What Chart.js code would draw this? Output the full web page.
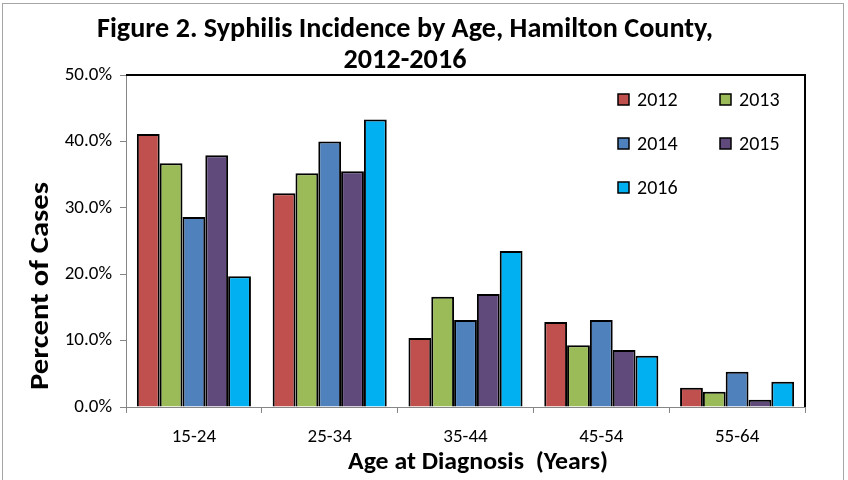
<!DOCTYPE html>
<html>
<head>
<meta charset="utf-8">
<script src="https://cdn.jsdelivr.net/npm/chart.js@4.4.1/dist/chart.umd.min.js"></script>
<style>
  html, body { margin: 0; padding: 0; background: #fff; }
  #wrap { width: 848px; height: 480px; position: relative; }
</style>
</head>
<body>
<div id="wrap"><canvas id="chart" width="848" height="480"></canvas></div>
<script>
// ---- data ----
const categories = ['15-24', '25-34', '35-44', '45-54', '55-64'];
const years = ['2012', '2013', '2014', '2015', '2016'];
const pct2012 = [41.1, 32.2, 10.4, 12.8, 2.9];
const pct2013 = [36.7, 35.2, 16.6, 9.3, 2.3];
const pct2014 = [28.6, 40.0, 13.1, 13.1, 5.3];
const pct2015 = [37.9, 35.5, 17.0, 8.6, 1.1];
const pct2016 = [19.7, 43.3, 23.5, 7.7, 3.8];
const yTicks = [0, 10, 20, 30, 40, 50];

const titleLines = ['Figure 2. Syphilis Incidence by Age, Hamilton County,', '2012-2016'];
const yTitle = 'Percent of Cases';
const xTitle = 'Age at Diagnosis  (Years)';

const colors = ['#C0504D', '#9BBB59', '#4F81BD', '#604A7B', '#00B0F0'];
const FONT = 'Carlito, Calibri, "Liberation Sans Narrow", "Open Sans", sans-serif';
const AXIS_GRAY = '#868686';

// draw text stretched along its direction so it spans a given length
function fitText(ctx, text, x, y, len) {
    const w = ctx.measureText(text).width;
    const sx = len / w;
    ctx.save();
    ctx.translate(x, y);
    ctx.scale(sx, 1);
    ctx.fillText(text, 0, 0);
    ctx.restore();
    return sx;
}

// titles, frame, plot border and legend
const decor = {
    id: 'decor',
    afterDraw(chart) {
        const { ctx, chartArea: a } = chart;
        ctx.save();

        // outer frame
        ctx.strokeStyle = '#A6A6A6';
        ctx.lineWidth = 1;
        ctx.strokeRect(2.5, 3.5, 841, 500);

        // plot area top/right border
        ctx.strokeStyle = '#000';
        ctx.lineWidth = 2;
        ctx.beginPath();
        ctx.moveTo(a.left, a.top);
        ctx.lineTo(a.right, a.top);
        ctx.lineTo(a.right, a.bottom);
        ctx.stroke();

        // chart title
        ctx.fillStyle = '#000';
        ctx.textAlign = 'center';
        ctx.textBaseline = 'middle';
        ctx.font = 'bold 29px ' + FONT;
        const sx = fitText(ctx, titleLines[0], 405, 30, 616);
        ctx.save();
        ctx.translate(405, 61);
        ctx.scale(sx, 1);
        ctx.fillText(titleLines[1], 0, 0);
        ctx.restore();

        // axis titles
        ctx.font = 'bold 25px ' + FONT;
        fitText(ctx, xTitle, 478, 463, 260);
        ctx.save();
        ctx.translate(41, 286);
        ctx.rotate(-Math.PI / 2);
        ctx.font = 'bold 26px ' + FONT;
        fitText(ctx, yTitle, 0, 0, 208);
        ctx.restore();

        // legend, two columns inside plot area
        ctx.font = '20px ' + FONT;
        ctx.textAlign = 'left';
        chart.data.datasets.forEach((ds, i) => {
            const col = i % 2, row = Math.floor(i / 2);
            const x = 618 + col * 102;
            const y = 99.5 + row * 44;
            ctx.fillStyle = ds.backgroundColor;
            ctx.fillRect(x, y - 5.5, 11, 11);
            ctx.strokeStyle = '#000';
            ctx.lineWidth = 1.5;
            ctx.strokeRect(x, y - 5.5, 11, 11);
            ctx.fillStyle = '#000';
            ctx.fillText(ds.label, x + 19, y + 1);
        });

        ctx.restore();
    }
};

const seriesValues = [pct2012, pct2013, pct2014, pct2015, pct2016];

new Chart(document.getElementById('chart'), {
    type: 'bar',
    data: {
        labels: categories,
        datasets: years.map((yr, i) => ({
            label: yr,
            data: seriesValues[i],
            backgroundColor: colors[i],
            borderColor: '#000',
            borderWidth: 2,
            categoryPercentage: 0.84,
            barPercentage: 1.0
        }))
    },
    options: {
        responsive: false,
        animation: false,
        layout: { padding: { top: 75, right: 43, left: 0, bottom: 0 } },
        plugins: {
            legend: { display: false },
            title: { display: false },
            tooltip: { enabled: false }
        },
        scales: {
            x: {
                grid: { drawOnChartArea: false, color: AXIS_GRAY, tickLength: 6, offset: true },
                border: { color: AXIS_GRAY, width: 1 },
                ticks: { color: '#000', font: { family: FONT, size: 19 }, padding: 13 },
                afterFit: (scale) => { scale.height = 73; }
            },
            y: {
                min: 0,
                max: 50,
                afterBuildTicks: (scale) => { scale.ticks = yTicks.map(v => ({ value: v })); },
                grid: { drawOnChartArea: false, color: AXIS_GRAY, tickLength: 6 },
                border: { color: AXIS_GRAY, width: 1 },
                ticks: {
                    color: '#000',
                    font: { family: FONT, size: 19 },
                    padding: 8,
                    callback: (v) => Number(v).toFixed(1) + '%'
                },
                afterFit: (scale) => { scale.width = 126; }
            }
        }
    },
    plugins: [decor]
});
</script>
</body>
</html>
